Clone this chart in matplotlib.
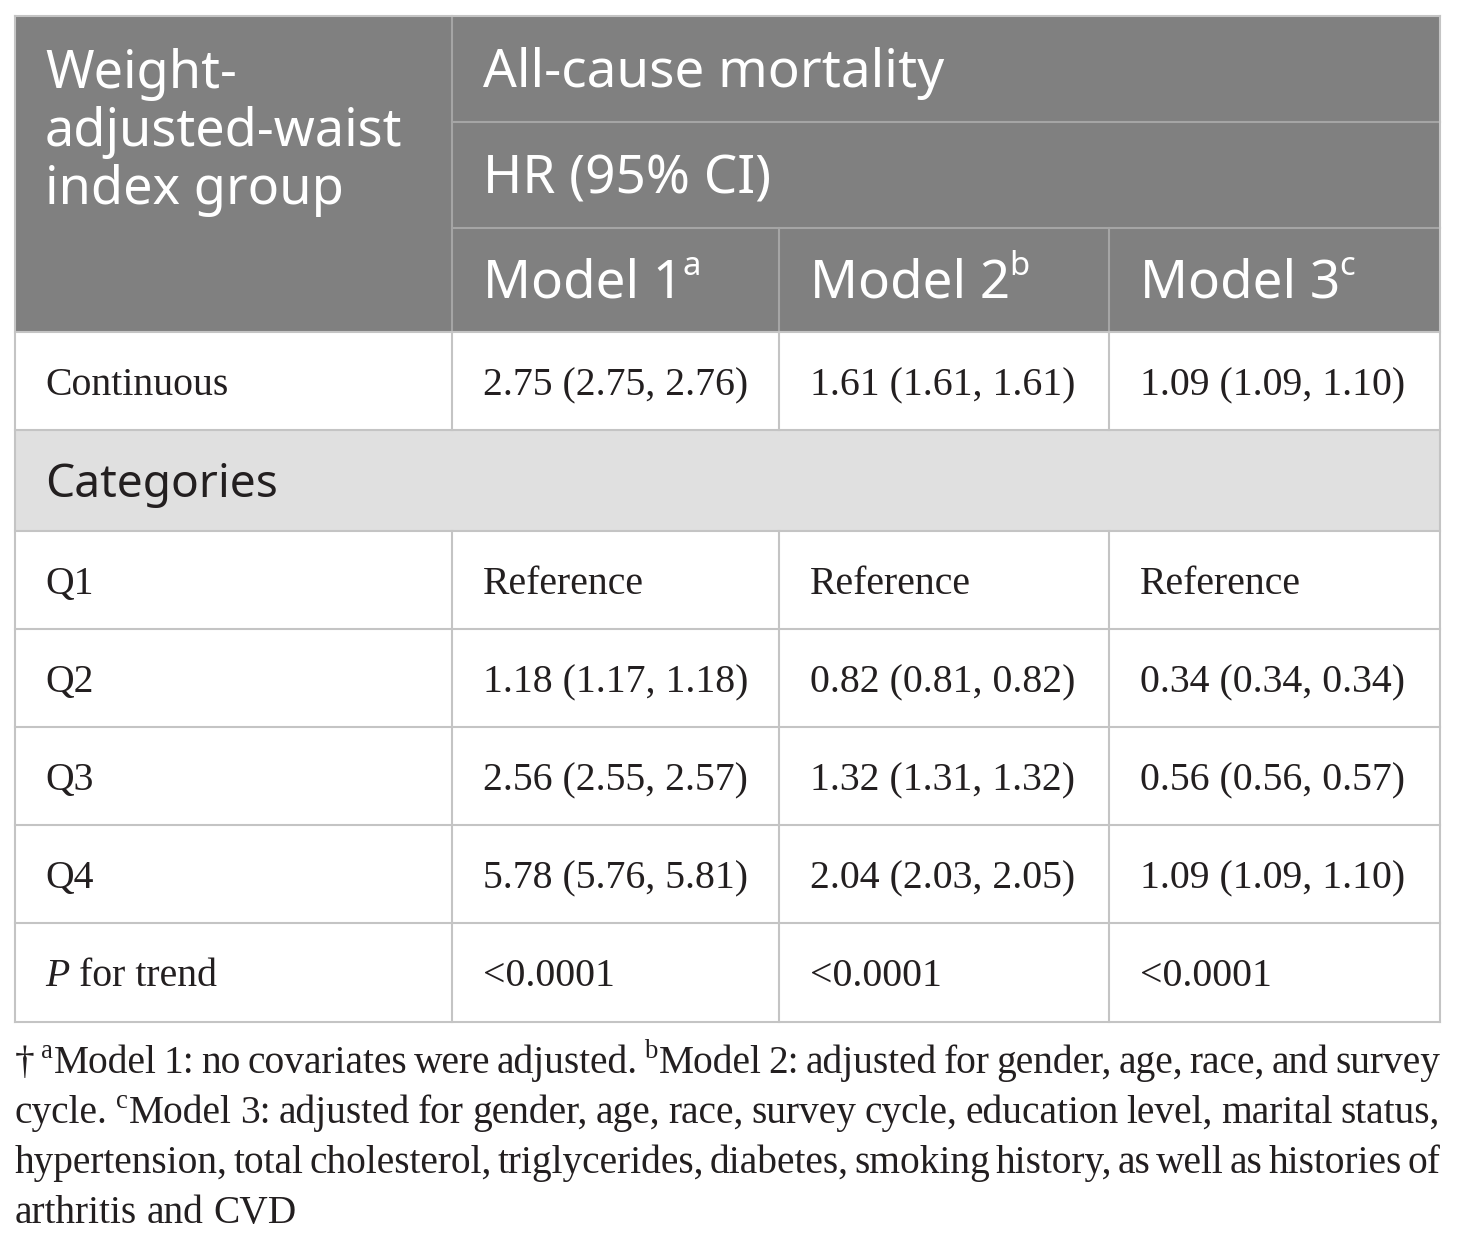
import matplotlib
matplotlib.use("Agg")
import matplotlib.pyplot as plt
from matplotlib.patches import Rectangle

# table content
stub_header = ["Weight-", "adjusted-waist", "index group"]
outcome = "All-cause mortality"
measure = "HR (95% CI)"
models = ["Model 1", "Model 2", "Model 3"]
model_sup = ["a", "b", "c"]
continuous = ["2.75 (2.75, 2.76)", "1.61 (1.61, 1.61)", "1.09 (1.09, 1.10)"]
quart_labels = ["Q1", "Q2", "Q3", "Q4"]
quart_vals = [
    ["Reference", "Reference", "Reference"],
    ["1.18 (1.17, 1.18)", "0.82 (0.81, 0.82)", "0.34 (0.34, 0.34)"],
    ["2.56 (2.55, 2.57)", "1.32 (1.31, 1.32)", "0.56 (0.56, 0.57)"],
    ["5.78 (5.76, 5.81)", "2.04 (2.03, 2.05)", "1.09 (1.09, 1.10)"],
]
p_trend = ["<0.0001", "<0.0001", "<0.0001"]
foot_lines = [
    "† ^aModel 1: no covariates were adjusted. ^bModel 2: adjusted for gender, age, race, and survey",
    "cycle. ^cModel 3: adjusted for gender, age, race, survey cycle, education level, marital status,",
    "hypertension, total cholesterol, triglycerides, diabetes, smoking history, as well as histories of",
    "arthritis and CVD",
]

W, H = 1460, 1239
fig = plt.figure(figsize=(W / 100, H / 100), dpi=100)
ax = fig.add_axes([0, 0, 1, 1])
ax.set_xlim(0, W)
ax.set_ylim(H, 0)
ax.axis("off")
fig.canvas.draw()
r = fig.canvas.get_renderer()

SANS = "Noto Sans"
SERIF = "Liberation Serif"
INK = "#231f20"
HEAD = "#808080"
HEAD_LINE = "#a5a5a5"
GRID = "#c4c4c4"
CAT = "#e0e0e0"

def width(s, size, family, style="normal"):
    t = ax.text(0, 0, s, fontsize=size, family=family, style=style)
    w = t.get_window_extent(r).width
    t.remove()
    return w

def fit(s, target, family):
    return 20 * target / width(s, 20, family)

head_fs = fit(outcome, 462, SANS)
cat_fs = fit("Categories", 233, SANS)
body_fs = fit(continuous[0], 265, SERIF)
foot_fs = fit(foot_lines[3], 282, SERIF)

def space_w(size, family):
    return width("a a", size, family) - width("aa", size, family)

def runs_of(word):
    # split a word into (text, superscript?) runs
    if word.startswith("^"):
        return [(word[1], True), (word[2:], False)]
    return [(word, False)]

def draw_word(x, y, word, size, family, color, draw=True):
    for txt, sup in runs_of(word):
        fs = size * 0.68 if sup else size
        dy = -size * 100 / 72 * 0.38 if sup else 0
        if draw:
            ax.text(x, y + dy, txt, fontsize=fs, family=family, color=color,
                    va="baseline", ha="left")
        x += width(txt, fs, family) + (1 if sup else 0)
    return x

def word_w(word, size, family):
    return draw_word(0, 0, word, size, family, INK, draw=False)

# table frame and fills
x0, x1 = 15, 1440
cols = [15, 452, 779, 1109, 1440]
rows = [16, 122, 228, 332, 430, 531, 629, 727, 825, 923, 1022]

ax.add_patch(Rectangle((x0, rows[0]), x1 - x0, rows[3] - rows[0], color=HEAD, lw=0))
ax.add_patch(Rectangle((x0, rows[4]), x1 - x0, rows[5] - rows[4], color=CAT, lw=0))

lw = 1.5
ax.plot([cols[1], cols[1]], [rows[0], rows[3]], color=HEAD_LINE, lw=lw)
for yy in rows[1:3]:
    ax.plot([cols[1], x1], [yy, yy], color=HEAD_LINE, lw=lw)
for xx in cols[2:4]:
    ax.plot([xx, xx], [rows[2], rows[3]], color=HEAD_LINE, lw=lw)
for yy in rows[3:]:
    ax.plot([x0, x1], [yy, yy], color=GRID, lw=lw)
ax.plot([x0, x1], [rows[0], rows[0]], color=GRID, lw=lw)
for xx in (x0, x1):
    ax.plot([xx, xx], [rows[0], rows[-1]], color=GRID, lw=lw)
for xx in cols[1:4]:
    ax.plot([xx, xx], [rows[3], rows[4]], color=GRID, lw=lw)
    ax.plot([xx, xx], [rows[5], rows[-1]], color=GRID, lw=lw)

# header text
for i, s in enumerate(stub_header):
    ax.text(45, 88 + 58 * i, s, fontsize=head_fs * 0.985, family=SANS, color="white",
            va="baseline")
ax.text(483, 87, outcome, fontsize=head_fs, family=SANS, color="white", va="baseline")
ax.text(483, 193, measure, fontsize=head_fs, family=SANS, color="white", va="baseline")
for j, (m, sup) in enumerate(zip(models, model_sup)):
    ax.text(cols[j + 1] + 31, 297, m, fontsize=head_fs, family=SANS,
            color="white", va="baseline")
    xm = cols[j + 1] + 31 + width(m, head_fs, SANS) - 1
    ax.text(xm, 297 - head_fs * 100 / 72 * 0.42, sup, fontsize=head_fs * 0.62,
            family=SANS, color="white", va="baseline")

# body rows
def body_row(y, label, vals, italic_first=False):
    if italic_first:
        ax.text(45, y, "P", fontsize=body_fs, family=SERIF, style="italic",
                color=INK, va="baseline")
        ax.text(45 + width("P", body_fs, SERIF, "italic") + space_w(body_fs, SERIF), y,
                label, fontsize=body_fs, family=SERIF, color=INK, va="baseline")
    else:
        ax.text(45, y, label, fontsize=body_fs, family=SERIF, color=INK, va="baseline")
    for j, v in enumerate(vals):
        ax.text(cols[j + 1] + 31, y, v, fontsize=body_fs, family=SERIF, color=INK,
                va="baseline")

body_row(rows[3] + 63, "Continuous", continuous)
ax.text(45, rows[4] + 67, "Categories", fontsize=cat_fs, family=SANS, color=INK,
        va="baseline")
for i, (lab, vals) in enumerate(zip(quart_labels, quart_vals)):
    body_row(rows[5 + i] + 63, lab, vals)
body_row(rows[9] + 63, "for trend", p_trend, italic_first=True)

# justified footnote
sp = space_w(foot_fs, SERIF)
for k, line in enumerate(foot_lines):
    y = 1073 + 50 * k
    words = line.split(" ")
    ws = [word_w(w, foot_fs, SERIF) for w in words]
    last = k == len(foot_lines) - 1
    gap = sp if last else (x1 - x0 - sum(ws)) / (len(words) - 1)
    x = x0
    for w, wd in zip(words, ws):
        draw_word(x, y, w, foot_fs, SERIF, INK)
        x += wd + gap

fig.savefig("out.png", dpi=100, facecolor="white")
